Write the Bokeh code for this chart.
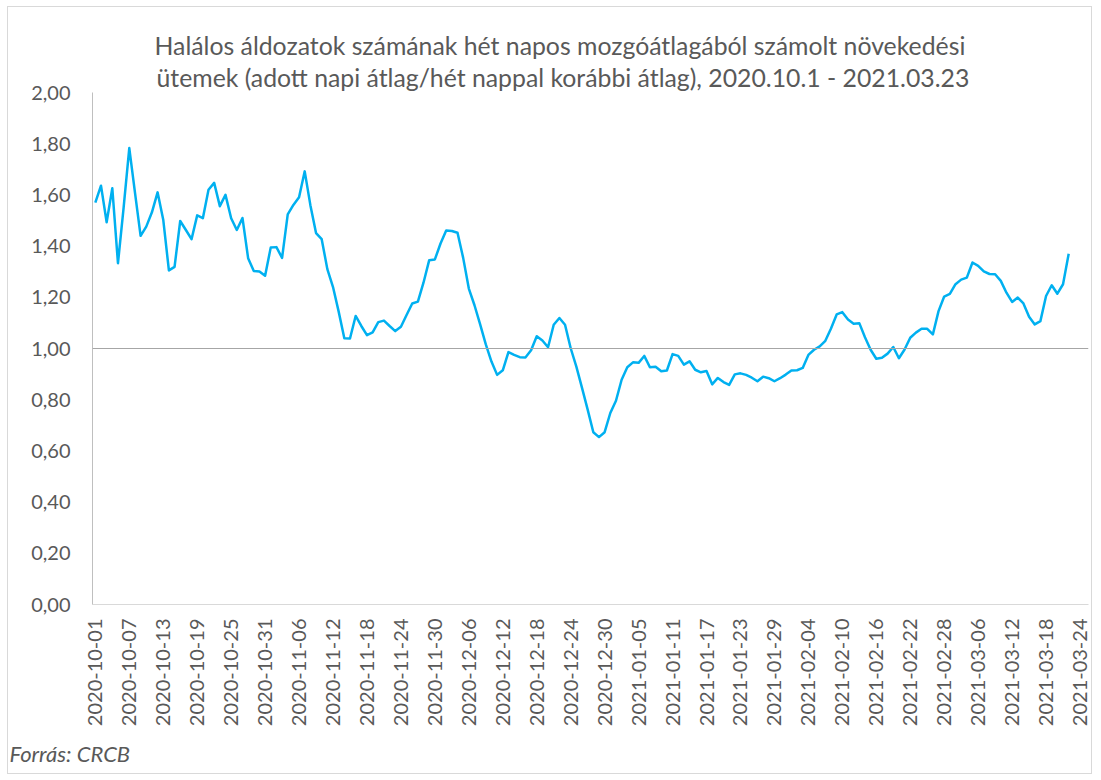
import math
from bokeh.plotting import figure
from bokeh.models import FixedTicker, Span, Title
from bokeh.embed import file_html
from bokeh.resources import INLINE

# Data: daily growth rates, day 0 = 2020-10-01
start_date = "2020-10-01"
growth = [
    1.570, 1.636, 1.493, 1.626, 1.333, 1.550, 1.783, 1.610, 1.440, 1.476,
    1.532, 1.610, 1.503, 1.305, 1.319, 1.498, 1.463, 1.427, 1.520, 1.509,
    1.620, 1.647, 1.556, 1.600, 1.509, 1.463, 1.510, 1.353, 1.303, 1.301,
    1.284, 1.395, 1.396, 1.354, 1.524, 1.561, 1.591, 1.692, 1.560, 1.451,
    1.427, 1.310, 1.240, 1.144, 1.040, 1.039, 1.127, 1.088, 1.052, 1.063,
    1.103, 1.109, 1.088, 1.068, 1.085, 1.131, 1.176, 1.183, 1.258, 1.345,
    1.348, 1.410, 1.461, 1.459, 1.452, 1.354, 1.234, 1.169, 1.094, 1.016,
    0.949, 0.897, 0.915, 0.986, 0.975, 0.966, 0.965, 0.993, 1.048, 1.031,
    1.005, 1.093, 1.119, 1.093, 1.001, 0.929, 0.846, 0.761, 0.673, 0.654,
    0.673, 0.748, 0.796, 0.878, 0.927, 0.946, 0.944, 0.971, 0.927, 0.929,
    0.911, 0.914, 0.978, 0.971, 0.937, 0.950, 0.917, 0.907, 0.912, 0.860,
    0.885, 0.869, 0.858, 0.899, 0.903, 0.897, 0.886, 0.872, 0.890, 0.884,
    0.872, 0.884, 0.898, 0.914, 0.915, 0.924, 0.975, 0.995, 1.008, 1.030,
    1.078, 1.133, 1.142, 1.113, 1.097, 1.099, 1.044, 0.995, 0.960, 0.964,
    0.980, 1.006, 0.962, 0.996, 1.042, 1.062, 1.077, 1.077, 1.055, 1.146,
    1.203, 1.213, 1.251, 1.269, 1.277, 1.336, 1.323, 1.301, 1.291, 1.290,
    1.264, 1.218, 1.182, 1.199, 1.176, 1.124, 1.094, 1.107, 1.205, 1.247,
    1.214, 1.251, 1.370,
]
day_index = list(range(len(growth)))

x_tick_labels = [
    "2020-10-01", "2020-10-07", "2020-10-13", "2020-10-19", "2020-10-25",
    "2020-10-31", "2020-11-06", "2020-11-12", "2020-11-18", "2020-11-24",
    "2020-11-30", "2020-12-06", "2020-12-12", "2020-12-18", "2020-12-24",
    "2020-12-30", "2021-01-05", "2021-01-11", "2021-01-17", "2021-01-23",
    "2021-01-29", "2021-02-04", "2021-02-10", "2021-02-16", "2021-02-22",
    "2021-02-28", "2021-03-06", "2021-03-12", "2021-03-18", "2021-03-24",
]
x_tick_step = 6
y_ticks = [0.0, 0.2, 0.4, 0.6, 0.8, 1.0, 1.2, 1.4, 1.6, 1.8, 2.0]
y_tick_labels = ["0,00", "0,20", "0,40", "0,60", "0,80", "1,00",
                 "1,20", "1,40", "1,60", "1,80", "2,00"]
reference_level = 1.0

title_line1 = "Halálos áldozatok számának hét napos mozgóátlagából számolt növekedési"
title_line2 = "ütemek (adott napi átlag/hét nappal korábbi átlag), 2020.10.1 - 2021.03.23"
source_text = "Forrás: CRCB"

FONT = "Lato"
GREY = "#595959"

p = figure(
    width=1085, height=768,
    x_range=(-0.5, 175.5), y_range=(0, 2.0),
    output_backend="svg", toolbar_location=None,
    min_border_left=84, min_border_right=5,
    min_border_top=85, min_border_bottom=171,
)
p.styles = {"border": "1px solid #d9d9d9", "margin": "6px 0px 0px 7px"}
p.outline_line_color = None
p.grid.visible = False

x_tick_pos = [i * x_tick_step for i in range(len(x_tick_labels))]
p.xaxis.ticker = FixedTicker(ticks=x_tick_pos)
p.xaxis.major_label_overrides = {pos: lab for pos, lab in zip(x_tick_pos, x_tick_labels)}
p.xaxis.major_label_orientation = math.pi / 2
p.xaxis.axis_line_color = "#d9d9d9"
p.xaxis.axis_line_width = 1
p.xaxis.major_tick_line_color = None
p.xaxis.minor_tick_line_color = None
p.xaxis.major_label_text_font = FONT
p.xaxis.major_label_text_font_size = "20px"
p.xaxis.major_label_text_color = GREY
p.xaxis.major_label_standoff = 8

p.yaxis.ticker = FixedTicker(ticks=y_ticks)
p.yaxis.major_label_overrides = {t: lab for t, lab in zip(y_ticks, y_tick_labels)}
p.yaxis.axis_line_color = "#bfbfbf"
p.yaxis.major_tick_line_color = None
p.yaxis.minor_tick_line_color = None
p.yaxis.major_label_text_font = FONT
p.yaxis.major_label_text_font_size = "20px"
p.yaxis.major_label_text_color = GREY
p.yaxis.major_label_standoff = 16

p.add_layout(Span(location=reference_level, dimension="width",
                  line_color="#a6a6a6", line_width=1.2))

p.line(day_index, growth, line_color="#00B0F0", line_width=2.5, line_join="round")

# titles: first added is closest to the frame
p.add_layout(Title(text=title_line2, align="left", offset=64, text_font=FONT,
                   text_font_size="24.8px", text_color=GREY, text_font_style="normal",
                   standoff=2), "above")
p.add_layout(Title(text=title_line1, align="left", offset=62, text_font=FONT,
                   text_font_size="24.8px", text_color=GREY, text_font_style="normal",
                   standoff=0), "above")
p.add_layout(Title(text=source_text, align="left", offset=-83, text_font=FONT,
                   text_font_size="22px", text_color=GREY, text_font_style="italic",
                   standoff=16), "below")

open("out.html", "w").write(file_html(p, INLINE))
